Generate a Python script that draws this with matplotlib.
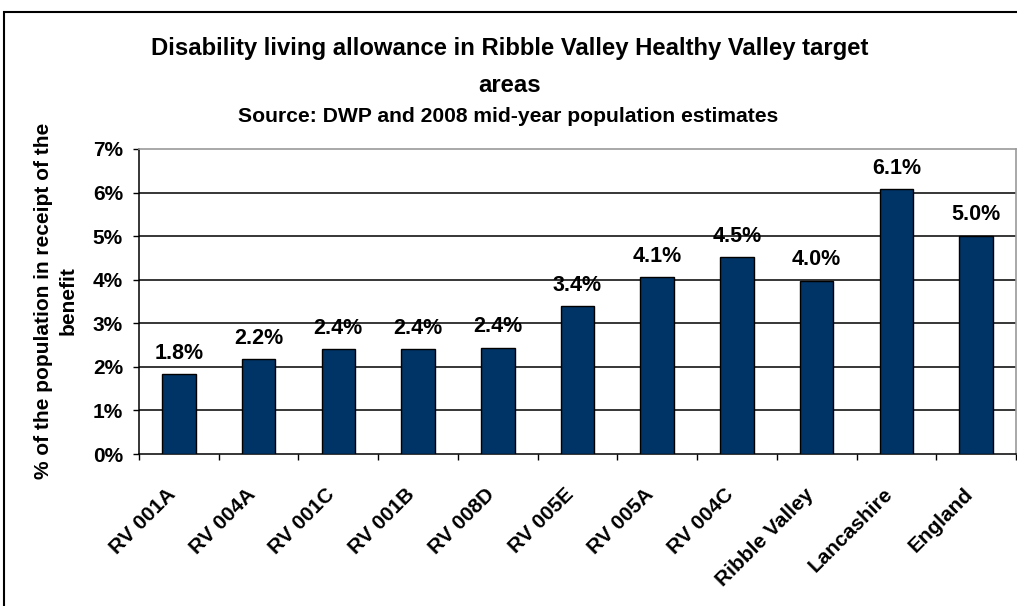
import matplotlib
matplotlib.use("Agg")
import matplotlib.pyplot as plt
from matplotlib.patches import Rectangle
from matplotlib.ticker import FuncFormatter, FixedLocator
import matplotlib.transforms as mtransforms

plt.rcParams['font.family'] = ['Liberation Sans', 'DejaVu Sans']
plt.rcParams['font.weight'] = 'bold'

# Share of population receiving Disability Living Allowance (%)
areas = ["RV 001A", "RV 004A", "RV 001C", "RV 001B", "RV 008D", "RV 005E",
         "RV 005A", "RV 004C", "Ribble Valley", "Lancashire", "England"]
dla_pct = [1.83, 2.17, 2.40, 2.41, 2.44, 3.40, 4.06, 4.52, 3.98, 6.08, 5.01]
y_ticks = [0, 1, 2, 3, 4, 5, 6, 7]

title_line1 = "Disability living allowance in Ribble Valley Healthy Valley target"
title_line2 = "areas"
subtitle = "Source: DWP and 2008 mid-year population estimates"
y_label = "% of the population in receipt of the\nbenefit"

W, H = 1017, 606
fig = plt.figure(figsize=(W / 100, H / 100), dpi=100)
fig.patch.set_facecolor("white")

# outer chart frame (only top and left edges fall inside the canvas)
frame = Rectangle((4 / W, -0.2), 1.3, (1 - 12 / H) + 0.2,
                  transform=fig.transFigure, fill=False,
                  edgecolor="black", linewidth=1.5)
fig.patches.append(frame)

ax = fig.add_axes([139 / W, 1 - 454 / H, (1016 - 139) / W, (454 - 149) / H])

x = list(range(len(areas)))
ax.bar(x, dla_pct, width=0.42, color="#003366",
       edgecolor="black", linewidth=1.0, zorder=3)

for xi, v in zip(x, dla_pct):
    ax.annotate(f"{v:.1f}%", xy=(xi, v), xytext=(0, 11),
                textcoords="offset points", ha="center", va="baseline",
                fontsize=15.5, fontweight="bold", color="black")

ax.set_xlim(-0.5, len(areas) - 0.5)
ax.set_ylim(0, 7)

# horizontal gridlines
for t in y_ticks[1:-1]:
    ax.axhline(t, color="black", linewidth=1.1, zorder=1)

ax.spines["top"].set_color("#999999")
ax.spines["right"].set_color("#999999")
ax.spines["top"].set_linewidth(1.2)
ax.spines["right"].set_linewidth(1.2)
ax.spines["left"].set_color("black")
ax.spines["bottom"].set_color("black")
ax.spines["left"].set_linewidth(1.1)
ax.spines["bottom"].set_linewidth(1.1)

ax.set_yticks(y_ticks)
ax.yaxis.set_major_formatter(FuncFormatter(lambda v, p: f"{int(v)}%"))
ax.tick_params(axis="y", direction="out", length=4.5, width=1.0,
               pad=7, labelsize=15, colors="black")

# category labels at bar centres, tick marks on category boundaries
ax.set_xticks(x)
ax.set_xticklabels(areas, rotation=45, ha="right", rotation_mode="anchor",
                   fontsize=15, fontweight="bold")
ax.tick_params(axis="x", which="major", length=0, pad=22)
ax.xaxis.set_minor_locator(FixedLocator([i - 0.5 for i in range(len(areas) + 1)]))
ax.tick_params(axis="x", which="minor", direction="out", length=4, width=1.0)
shift = mtransforms.ScaledTranslation(-13 / 100, 0, fig.dpi_scale_trans)
for lbl in ax.get_xticklabels():
    lbl.set_transform(lbl.get_transform() + shift)

fig.text(510 / W, 1 - 55 / H, title_line1, ha="center", va="baseline",
         fontsize=17.2, fontweight="bold")
fig.text(510 / W, 1 - 92 / H, title_line2, ha="center", va="baseline",
         fontsize=17.2, fontweight="bold")
fig.text(508 / W, 1 - 122 / H, subtitle, ha="center", va="baseline",
         fontsize=15.2, fontweight="bold")

fig.text(56 / W, 1 - 301 / H, y_label, rotation=90, ha="center", va="center",
         multialignment="center", fontsize=15, fontweight="bold",
         linespacing=1.4)

fig.savefig("out.png", dpi=100, facecolor="white")
